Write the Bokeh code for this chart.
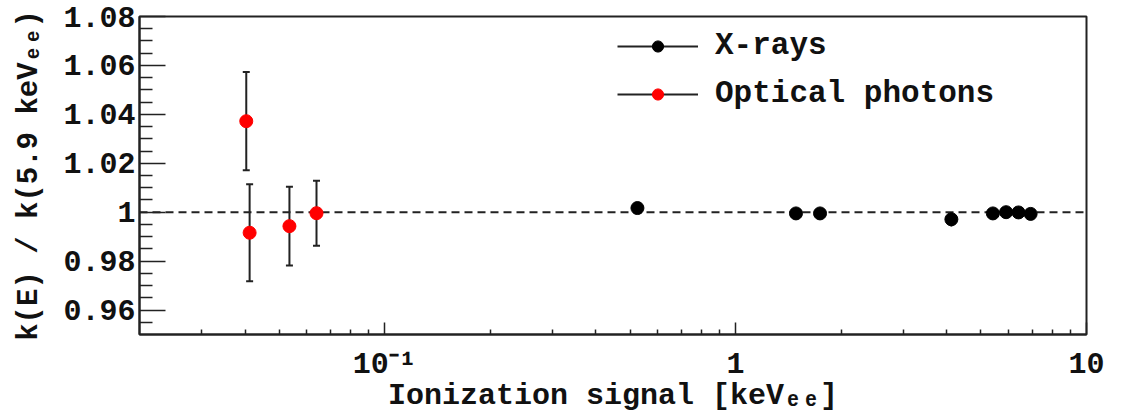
from bokeh.plotting import figure
from bokeh.models import (ColumnDataSource, Span, Legend, LegendItem,
                          FixedTicker, CustomJSTickFormatter, Range1d)
from bokeh.embed import file_html
from bokeh.resources import INLINE

# ---------------- data ----------------
xray_energy = [0.525, 1.486, 1.740, 4.12, 5.41, 5.90, 6.40, 6.93]
xray_ratio = [1.0017, 0.9995, 0.9995, 0.9971, 0.9995, 1.0000, 0.9999, 0.9993]
xray_err = [0.0010, 0.0008, 0.0008, 0.0030, 0.0008, 0.0005, 0.0008, 0.0008]

optical_energy = [0.0403, 0.0412, 0.0535, 0.0639]
optical_ratio = [1.0372, 0.9916, 0.9943, 0.9996]
optical_err = [0.0201, 0.0198, 0.0161, 0.0133]

x_major_ticks = [0.1, 1, 10]
x_major_labels = ["10\u207b\u00b9", "1", "10"]
x_minor_ticks = [0.03, 0.04, 0.05, 0.06, 0.07, 0.08, 0.09,
                 0.2, 0.3, 0.4, 0.5, 0.6, 0.7, 0.8, 0.9,
                 2, 3, 4, 5, 6, 7, 8, 9]
y_major_ticks = [0.96, 0.98, 1.00, 1.02, 1.04, 1.06, 1.08]
y_major_labels = ["0.96", "0.98", "1", "1.02", "1.04", "1.06", "1.08"]
y_minor_ticks = [0.955, 0.965, 0.97, 0.975, 0.985, 0.99, 0.995, 1.005, 1.01,
                 1.015, 1.025, 1.03, 1.035, 1.045, 1.05, 1.055, 1.065, 1.07, 1.075]

series_labels = ["X-rays", "Optical photons"]
x_title = "Ionization signal [keV\u2091\u2091]"
y_title = "k(E) / k(5.9 keV\u2091\u2091)"

FONT = "Liberation Mono"
INK = "#222222"
TXT = "#111111"

# ---------------- figure ----------------
W, H = 1123, 415
FL, FT = 139, 16
FR, FB = W - 1086, H - 339

p = figure(width=W, height=H, x_axis_type="log",
           x_range=Range1d(0.02, 10), y_range=Range1d(0.95, 1.08),
           output_backend="svg", toolbar_location=None,
           min_border_left=FL, min_border_right=FR,
           min_border_top=FT, min_border_bottom=FB)
p.grid.visible = False
p.outline_line_color = INK
p.outline_line_width = 2
p.background_fill_color = "white"
p.border_fill_color = "white"


def style_axis(ax):
    ax.major_tick_out = 0
    ax.minor_tick_out = 0
    ax.axis_line_color = INK
    ax.axis_line_width = 2
    ax.major_tick_line_color = INK
    ax.minor_tick_line_color = INK
    ax.major_tick_line_width = 1.5
    ax.minor_tick_line_width = 1.5
    ax.major_label_text_font = FONT
    ax.major_label_text_font_style = "bold"
    ax.major_label_text_font_size = "30px"
    ax.major_label_text_color = TXT
    ax.axis_label_text_font = FONT
    ax.axis_label_text_font_style = "bold"
    ax.axis_label_text_color = TXT


LOOKUP_LOG = """
  let best = 0, d = 1e9;
  for (let i = 0; i < tk.length; i++) {
    const e = Math.abs(Math.log10(tick) - Math.log10(tk[i]));
    if (e < d) { d = e; best = i; }
  }
  return lb[best];
"""
LOOKUP_LIN = """
  let best = 0, d = 1e9;
  for (let i = 0; i < tk.length; i++) {
    const e = Math.abs(tick - tk[i]);
    if (e < d) { d = e; best = i; }
  }
  return lb[best];
"""

xa = p.xaxis[0]
style_axis(xa)
xa.ticker = FixedTicker(ticks=x_major_ticks, minor_ticks=x_minor_ticks)
xa.formatter = CustomJSTickFormatter(
    args=dict(tk=x_major_ticks, lb=x_major_labels), code=LOOKUP_LOG)
xa.major_tick_in = 12
xa.minor_tick_in = 5
xa.major_label_standoff = 13
xa.axis_label = x_title
xa.axis_label_text_font_size = "30px"
xa.axis_label_standoff = -6

ya = p.yaxis[0]
style_axis(ya)
ya.ticker = FixedTicker(ticks=y_major_ticks, minor_ticks=y_minor_ticks)
ya.formatter = CustomJSTickFormatter(
    args=dict(tk=y_major_ticks, lb=y_major_labels), code=LOOKUP_LIN)
ya.major_tick_in = 26
ya.minor_tick_in = 13
ya.major_label_standoff = 4
ya.axis_label = y_title
ya.axis_label_text_font_size = "29px"
ya.axis_label_standoff = 14

# reference line at 1
p.add_layout(Span(location=1.0, dimension="width", line_color=INK,
                  line_width=2, line_dash="8 5", level="underlay"))

# ---------------- series ----------------
def make_src(x, y, e):
    return ColumnDataSource(dict(x=x, y=y,
                                 lo=[a - b for a, b in zip(y, e)],
                                 hi=[a + b for a, b in zip(y, e)]))

src_x = make_src(xray_energy, xray_ratio, xray_err)
src_o = make_src(optical_energy, optical_ratio, optical_err)

bars_x = p.segment(x0="x", y0="lo", x1="x", y1="hi", source=src_x,
                   line_color=INK, line_width=2)
bars_o = p.segment(x0="x", y0="lo", x1="x", y1="hi", source=src_o,
                   line_color=INK, line_width=2)
for col in ("lo", "hi"):
    p.scatter(x="x", y=col, source=src_o, marker="dash", size=7,
              line_color=INK, line_width=2)

pts_x = p.scatter(x="x", y="y", source=src_x, marker="circle", size=13,
                  fill_color="black", line_color="black")
pts_o = p.scatter(x="x", y="y", source=src_o, marker="circle", size=13,
                  fill_color="#ff0000", line_color="#ff0000")

legend = Legend(items=[LegendItem(label=series_labels[0], renderers=[bars_x, pts_x]),
                       LegendItem(label=series_labels[1], renderers=[bars_o, pts_o])],
                location=(478, 223), glyph_width=81, glyph_height=28,
                spacing=13, label_standoff=17, padding=0, margin=0,
                border_line_color=None, background_fill_alpha=0,
                label_text_font=FONT, label_text_font_style="bold",
                label_text_font_size="31px", label_text_color=TXT)
p.add_layout(legend)

open("out.html", "w").write(file_html(p, INLINE))
